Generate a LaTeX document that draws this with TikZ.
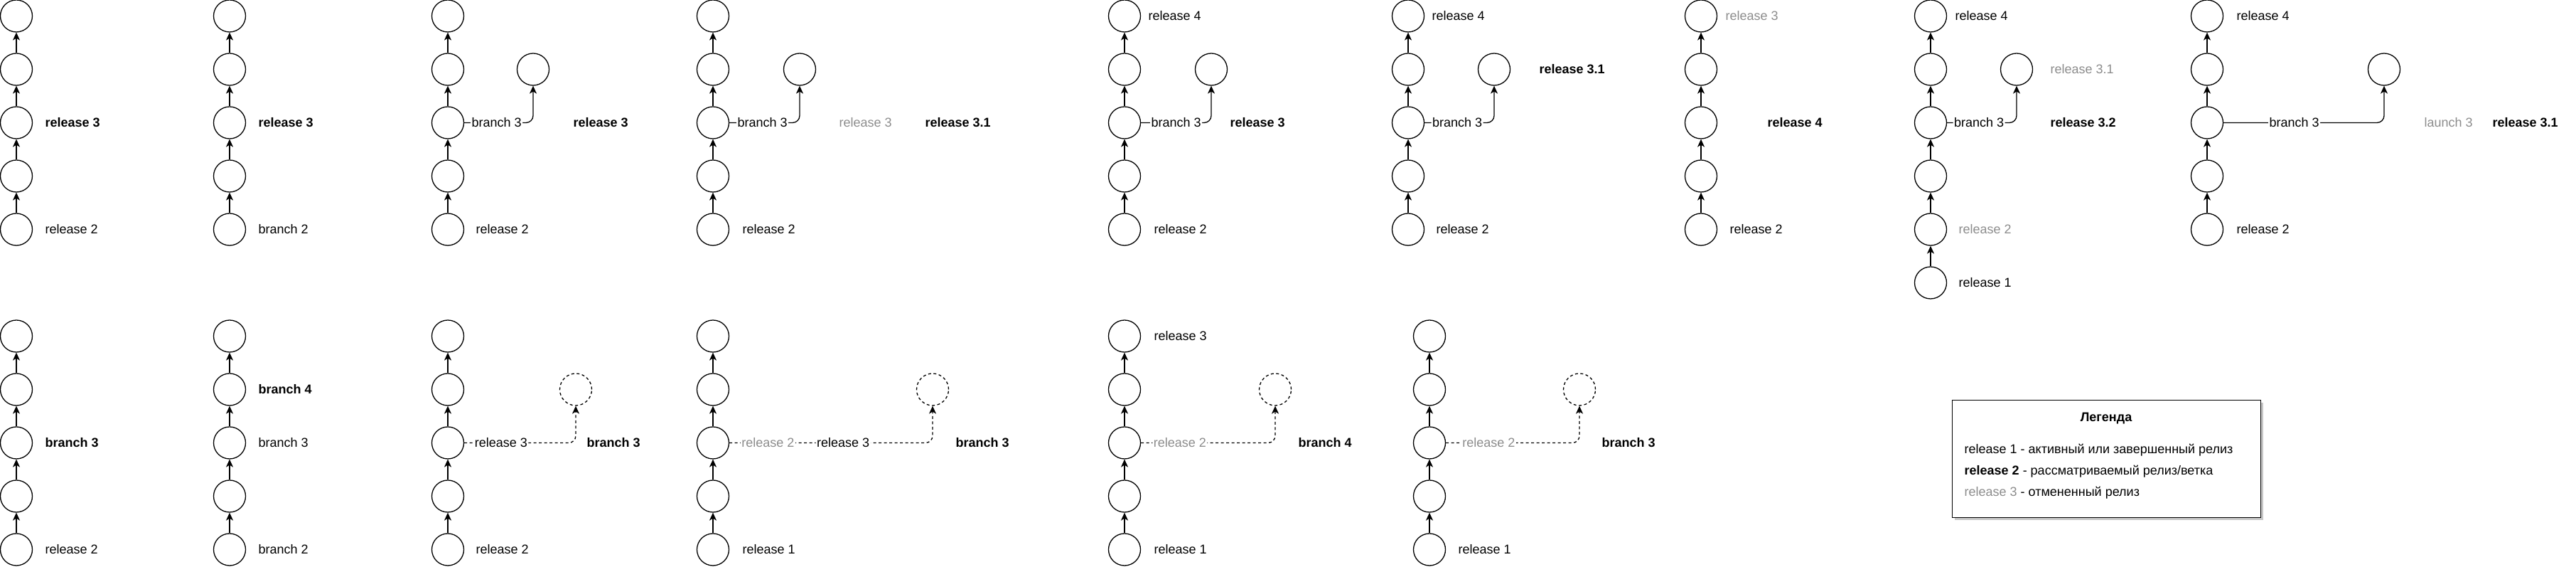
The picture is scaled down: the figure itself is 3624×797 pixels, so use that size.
\documentclass[tikz,border=0pt]{standalone}
\usepackage{fontspec}
\setmainfont{Liberation Sans}
\usepackage{xcolor}
\usetikzlibrary{arrows.meta,positioning}
\definecolor{dropped}{HTML}{8C8C8C}

\begin{document}
\fontsize{18}{21.6}\selectfont
\begin{tikzpicture}[x=1pt,y=1pt,line width=1.3pt,
    commit/.style={circle,draw,minimum size=45pt,inner sep=0pt},
    planned/.style={commit,dash pattern=on 4pt off 3.5pt},
    flow/.style={-{Stealth[length=11pt,width=10pt,inset=3pt]}},
    fork/.style={flow,rounded corners=10pt},
    forkplan/.style={fork,dash pattern=on 4pt off 3.5pt},
    tag/.style={anchor=west,inner sep=0pt},
    cur/.style={font=\bfseries},
    old/.style={text=dropped},
    onedge/.style={fill=white,inner sep=1.5pt}]
    \useasboundingbox (0,0) rectangle (3624,797);

    % Top row: chains
    \foreach \col/\x in {a/23,b/323,c/630,d/1003,e/1582,f/1981,g/2393,i/3105} {
        \foreach \k in {1,...,5} \node[commit] (\col\k) at (\x,399.5+75*\k) {};
        \foreach \k [count=\j from 2] in {1,...,4} \draw[flow] (\col\k) -- (\col\j);
    }
    \foreach \k in {1,...,6} \node[commit] (h\k) at (2716,324.5+75*\k) {};
    \foreach \k [count=\j from 2] in {1,...,5} \draw[flow] (h\k) -- (h\j);

    % Top row: branches
    \node[commit] (cs) at (750,699.5) {}; \node[commit] (ds) at (1125,699.5) {};
    \node[commit] (es) at (1704,699.5) {}; \node[commit] (fs) at (2102,699.5) {};
    \node[commit] (hs) at (2837,699.5) {}; \node[commit] (is) at (3354,699.5) {};
    \draw[fork] (c3) -- (c3 -| cs) node[onedge,pos=.47] (cb) {branch 3} -- (cs);
    \draw[fork] (d3) -- (d3 -| ds) node[onedge,pos=.47] (db) {branch 3} -- (ds);
    \draw[fork] (e3) -- (e3 -| es) node[onedge,pos=.50] (eb) {branch 3} -- (es);
    \draw[fork] (f3) -- (f3 -| fs) node[onedge,pos=.47] (fb) {branch 3} -- (fs);
    \draw[fork] (h4) -- (h4 -| hs) node[onedge,pos=.46] (hb) {branch 3} -- (hs);
    \draw[fork] (i3) -- (i3 -| is) node[onedge,pos=.44] (ib) {branch 3} -- (is);

    % Top row: labels
    \node[tag,cur] (aL3) at (63,624.5) {release 3}; \node[tag] (aL1) at (63,474.5) {release 2};
    \node[tag,cur] (bL3) at (363,624.5) {release 3}; \node[tag] (bL1) at (363,474.5) {branch 2};
    \node[tag,cur] (cL3) at (806,624.5) {release 3}; \node[tag] (cL1) at (669,474.5) {release 2};
    \node[tag,old] (dLx) at (1180,624.5) {release 3}; \node[tag,cur] (dL3) at (1301,624.5) {release 3.1};
    \node[tag] (dL1) at (1044,474.5) {release 2};
    \node[tag] (eL5) at (1615,774.5) {release 4}; \node[tag,cur] (eL3) at (1730,624.5) {release 3};
    \node[tag] (eL1) at (1623,474.5) {release 2};
    \node[tag] (fL5) at (2014,774.5) {release 4}; \node[tag,cur] (fL4) at (2165,699.5) {release 3.1};
    \node[tag] (fL1) at (2020,474.5) {release 2};
    \node[tag,old] (gL5) at (2427,774.5) {release 3}; \node[tag,cur] (gL3) at (2486,624.5) {release 4};
    \node[tag] (gL1) at (2433,474.5) {release 2};
    \node[tag] (hL6) at (2750,774.5) {release 4}; \node[tag,old] (hL5) at (2884,699.5) {release 3.1};
    \node[tag,cur] (hL4) at (2884,624.5) {release 3.2};
    \node[tag,old] (hL2) at (2755,474.5) {release 2}; \node[tag] (hL1) at (2755,399.5) {release 1};
    \node[tag] (iL5) at (3146,774.5) {release 4}; \node[tag,old] (iLx) at (3410,624.5) {launch 3};
    \node[tag,cur] (iL3) at (3506,624.5) {release 3.1}; \node[tag] (iL1) at (3146,474.5) {release 2};

    % Bottom row: chains
    \foreach \col/\x in {m/23,n/323,o/630,p/1003,q/1582,r/2011} {
        \foreach \k in {1,...,5} \node[commit] (\col\k) at (\x,-50.5+75*\k) {};
        \foreach \k [count=\j from 2] in {1,...,4} \draw[flow] (\col\k) -- (\col\j);
    }

    % Bottom row: planned branches
    \node[planned] (os) at (810,249.5) {}; \node[planned] (ps) at (1312,249.5) {};
    \node[planned] (qs) at (1794,249.5) {}; \node[planned] (rs) at (2222,249.5) {};
    \draw[forkplan] (o3) -- (o3 -| os) node[onedge,pos=.33] (ob) {release 3} -- (os);
    \draw[forkplan] (p3) -- (p3 -| ps) node[onedge,old,pos=.19] (pa) {release 2}
        node[onedge,pos=.56] (pb) {release 3} -- (ps);
    \draw[forkplan] (q3) -- (q3 -| qs) node[onedge,old,pos=.29] (qb) {release 2} -- (qs);
    \draw[forkplan] (r3) -- (r3 -| rs) node[onedge,old,pos=.32] (rb) {release 2} -- (rs);

    % Bottom row: labels
    \node[tag,cur] (mL3) at (63,174.5) {branch 3}; \node[tag] (mL1) at (63,24.5) {release 2};
    \node[tag,cur] (nL4) at (363,249.5) {branch 4}; \node[tag] (nL3) at (363,174.5) {branch 3};
    \node[tag] (nL1) at (363,24.5) {branch 2};
    \node[tag,cur] (oL3) at (825,174.5) {branch 3}; \node[tag] (oL1) at (669,24.5) {release 2};
    \node[tag,cur] (pL3) at (1344,174.5) {branch 3}; \node[tag] (pL1) at (1044,24.5) {release 1};
    \node[tag] (qL5) at (1623,324.5) {release 3}; \node[tag,cur] (qL3) at (1826,174.5) {branch 4};
    \node[tag] (qL1) at (1623,24.5) {release 1};
    \node[tag,cur] (rL3) at (2253,174.5) {branch 3}; \node[tag] (rL1) at (2051,24.5) {release 1};

    % Legend
    \fill[black!22] (2749.5,65.5) rectangle (3183.5,230.5);
    \node[draw,fill=white,anchor=south west,minimum width=434pt,minimum height=165pt,inner sep=0pt] (legend) at (2746,69) {};
    \node[cur] (legtitle) at (2963,209) {Легенда};
    \node[tag] (leg1) at (2763,164) {release 1 - активный или завершенный релиз};
    \node[tag] (leg2) at (2763,134) {\textbf{release 2} - рассматриваемый релиз/ветка};
    \node[tag] (leg3) at (2763,104) {{\color{dropped}release 3} - отмененный релиз};
\end{tikzpicture}
\end{document}
